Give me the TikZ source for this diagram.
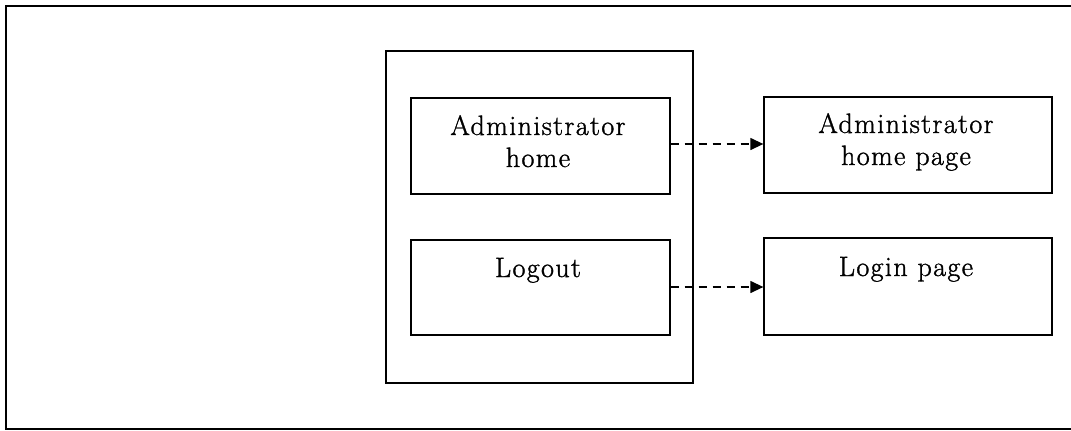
\documentclass[tikz,border=0pt]{standalone}
\usepackage{fontspec}
\newfontfamily\lblfont[LetterSpace=5,FakeBold=1.2]{Latin Modern Roman}
\usetikzlibrary{arrows.meta}
\begin{document}
\begin{tikzpicture}[x=1pt,y=-1pt,
  frameline/.style={line width=1.6pt,black},
  boxnode/.style={draw,line width=1.3pt,rectangle,inner sep=0pt},
  lbl/.style={inner sep=0pt,align=center,anchor=base,font=\lblfont\fontsize{28}{32}\selectfont},
  link/.style={line width=1.3pt,dash pattern=on 8pt off 6pt,-{Triangle[length=13pt,width=12pt]}}]
\useasboundingbox (0,0) rectangle (1071,431);
\coordinate (ftr) at (1071,6);
\coordinate (ftl) at (6,6);
\coordinate (fbl) at (6,429);
\coordinate (fbr) at (1071,429);
\draw[frameline] (ftr) -- (ftl) -- (fbl) -- (fbr);
\node[boxnode,minimum width=307pt,minimum height=332pt] (cont) at (539.5,217) {};
\node[boxnode,minimum width=259pt,minimum height=96pt] (ah) at (540.5,146) {};
\node[boxnode,minimum width=259pt,minimum height=95pt] (lo) at (540.5,287.5) {};
\node[boxnode,minimum width=288pt,minimum height=96pt] (ahp) at (908,145) {};
\node[boxnode,minimum width=288pt,minimum height=97pt] (lp) at (908,286.5) {};
\node[lbl] (tah) at (538,167) {Administrator\\home};
\node[lbl] (tlo) at (538,277) {Logout};
\node[lbl] (tahp) at (906,165) {Administrator\\home page};
\node[lbl] (tlp) at (906,276) {Login page};
\draw[link] (ah.east |- 0,144) -- (ahp.west |- 0,144);
\draw[link] (lo.east |- 0,287) -- (lp.west |- 0,287);
\end{tikzpicture}
\end{document}
